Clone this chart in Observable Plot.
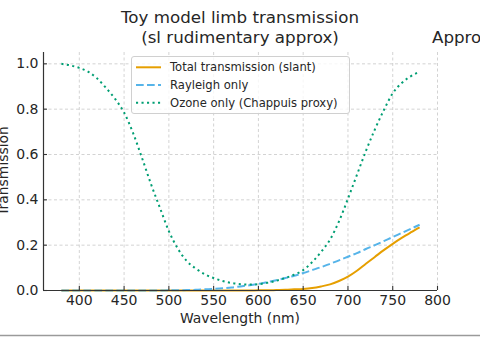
<!DOCTYPE html>
<html>
<head>
<meta charset="utf-8">
<script src="https://cdn.jsdelivr.net/npm/d3@7"></script>
<script src="https://cdn.jsdelivr.net/npm/@observablehq/plot@0.6"></script>
<style>
  html, body { margin: 0; padding: 0; background: #fff; }
  #chart { width: 480px; height: 337px; overflow: hidden; }
</style>
</head>
<body>
<div id="chart"></div>
<script>
// ---- data ----
const wavelengths = [380,390,400,410,420,430,440,450,460,470,480,490,500,510,520,530,540,550,560,570,580,590,600,610,620,630,640,650,660,670,680,690,700,710,720,730,740,750,760,770,780];
const totalT = [0,0,0,0,0,0,0,0,0,0,0,0,0,0,0,0,0,0,0,0,0,0,0.001,0.001,0.002,0.003,0.005,0.007,0.011,0.018,0.027,0.042,0.061,0.087,0.118,0.148,0.178,0.206,0.232,0.256,0.279];
const rayleighT = [0,0,0,0,0,0,0,0,0,0,0,0,0.001,0.001,0.002,0.003,0.005,0.007,0.010,0.013,0.018,0.023,0.029,0.037,0.045,0.055,0.065,0.077,0.090,0.103,0.118,0.133,0.149,0.165,0.183,0.200,0.218,0.236,0.254,0.272,0.290];
const ozoneT = [1.00,0.993,0.982,0.965,0.935,0.893,0.845,0.785,0.695,0.585,0.47,0.365,0.262,0.185,0.13,0.097,0.072,0.055,0.042,0.033,0.028,0.026,0.028,0.034,0.043,0.055,0.07,0.09,0.125,0.17,0.225,0.305,0.405,0.51,0.615,0.71,0.795,0.87,0.915,0.945,0.965];

const seriesNames = ["Total transmission (slant)", "Rayleigh only", "Ozone only (Chappuis proxy)"];
const seriesColors = ["#E69F00", "#56B4E9", "#009E73"];
const seriesDash = [null, "7.7,3.3", "2.1,3.4"];

const xTicks = [400,450,500,550,600,650,700,750,800];
const yTicks = [0,0.2,0.4,0.6,0.8,1.0];
const xDomain = [360, 800];
const yDomain = [0, 1.05];

const titleLines = ["Toy model limb transmission", "(sl rudimentary approx)"];
const neighbourTitle = "Approx";
const xLabel = "Wavelength (nm)";
const yLabel = "Transmission";

// build rows for the library
const valuesBySeries = [totalT, rayleighT, ozoneT];
const rows = seriesNames.map((name, i) => wavelengths.map((w, j) => ({w, t: valuesBySeries[i][j]})));

const W = 480, H = 337;
const mL = 43, mR = 43, mT = 52, mB = 47;

const lineMarks = rows.map((r, i) => Plot.line(r, {
  x: "w", y: "t",
  stroke: seriesColors[i],
  strokeWidth: 2,
  strokeDasharray: seriesDash[i] || undefined,
  strokeLinecap: "butt",
  curve: "monotone-x"
}));

const svg = Plot.plot({
  width: W, height: H,
  marginLeft: mL, marginRight: mR, marginTop: mT, marginBottom: mB,
  x: {domain: xDomain},
  y: {domain: yDomain},
  style: {fontFamily: "'DejaVu Sans', sans-serif", fontSize: "14px", color: "#262626", background: "#fff"},
  marks: [
    Plot.gridX(xTicks, {stroke: "#b0b0b0", strokeOpacity: 0.7, strokeWidth: 0.8, strokeDasharray: "3,2.5"}),
    Plot.gridY(yTicks, {stroke: "#b0b0b0", strokeOpacity: 0.7, strokeWidth: 0.8, strokeDasharray: "3,2.5"}),
    ...lineMarks,
    Plot.axisX(xTicks, {tickSize: 0, tickPadding: 5, fontSize: 14, label: null, fill: "#262626"}),
    Plot.axisY(yTicks, {tickSize: 0, tickPadding: 5, fontSize: 14, label: null, tickFormat: d3.format(".1f"), fill: "#262626"}),
    Plot.tickX(xTicks, {x: d => d, stroke: "#333", strokeWidth: 1.1, insetTop: (H - mT - mB) - 4}),
    Plot.tickY(yTicks, {y: d => d, stroke: "#333", strokeWidth: 1.1, insetRight: (W - mL - mR) - 4}),
    Plot.ruleY([yDomain[0]], {stroke: "#333", strokeWidth: 1.2}),
    Plot.ruleX([xDomain[0]], {stroke: "#333", strokeWidth: 1.2})
  ]
});

const s = d3.select(svg);
const txtColor = "#262626";

// titles
s.append("text").attr("x", 240).attr("y", 23).attr("text-anchor", "middle")
  .attr("font-size", 16.7).attr("fill", txtColor).text(titleLines[0]);
s.append("text").attr("x", 240).attr("y", 43).attr("text-anchor", "middle")
  .attr("font-size", 16.7).attr("fill", txtColor).text(titleLines[1]);
s.append("text").attr("x", 432).attr("y", 43).attr("text-anchor", "start")
  .attr("font-size", 16.7).attr("fill", txtColor).text(neighbourTitle);

// axis labels
s.append("text").attr("x", 240).attr("y", 323).attr("text-anchor", "middle")
  .attr("font-size", 13.9).attr("fill", txtColor).text(xLabel);
s.append("text").attr("transform", "translate(7.5,171) rotate(-90)").attr("text-anchor", "middle")
  .attr("font-size", 13.9).attr("fill", txtColor).text(yLabel);

// legend
const lg = s.append("g");
lg.append("rect").attr("x", 131.5).attr("y", 56.5).attr("width", 218).attr("height", 57)
  .attr("rx", 2.5).attr("fill", "#fff").attr("fill-opacity", 0.8).attr("stroke", "#d0d0d0").attr("stroke-width", 1);
const rowY = [67.3, 85, 102.7];
seriesNames.forEach((name, i) => {
  lg.append("line").attr("x1", 136).attr("x2", 161).attr("y1", rowY[i]).attr("y2", rowY[i])
    .attr("stroke", seriesColors[i]).attr("stroke-width", 2)
    .attr("stroke-dasharray", seriesDash[i] || null);
  lg.append("text").attr("x", 170).attr("y", rowY[i] + 4).attr("font-size", 11.6)
    .attr("text-anchor", "start").attr("fill", txtColor).text(name);
});

// bottom separator line
s.append("line").attr("x1", 0).attr("x2", W).attr("y1", 335.5).attr("y2", 335.5)
  .attr("stroke", "#9a9a9a").attr("stroke-width", 1.5);

document.getElementById("chart").appendChild(svg);
</script>
</body>
</html>
